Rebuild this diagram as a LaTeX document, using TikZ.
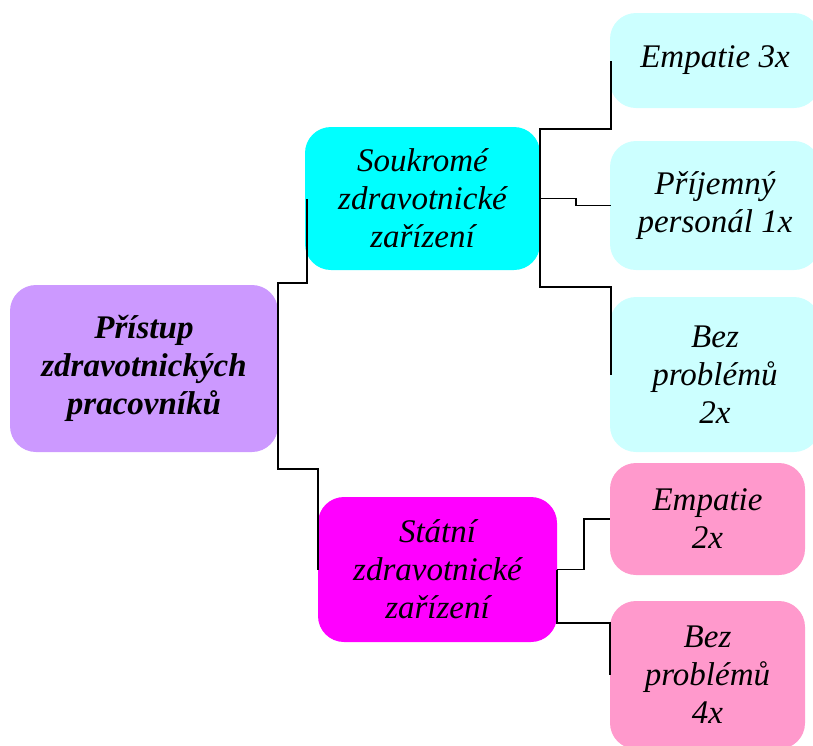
\documentclass[tikz,border=0pt]{standalone}
\usepackage{fontspec}
\setmainfont{Liberation Serif}
\definecolor{fialova}{HTML}{CC99FF}
\definecolor{tyrkys}{HTML}{00FFFF}
\definecolor{svetlytyrkys}{HTML}{CCFFFF}
\definecolor{purpur}{HTML}{FF00FF}
\definecolor{ruzova}{HTML}{FF99CC}
\begin{document}
\begin{tikzpicture}[x=1pt,y=-1pt,
	box/.style={rounded corners=26pt, align=center, inner sep=0pt, font=\fontsize{33}{38}\selectfont\itshape},
	spoj/.style={line width=1.6pt}]
	  \useasboundingbox (0,0) rectangle (813,745);
	  \clip (0,0) rectangle (813,745);
	  % hlavni uzel a dve skupiny zarizeni
	  \node[box, fill=fialova, minimum width=268pt, minimum height=167pt, font=\fontsize{33}{38}\selectfont\bfseries\itshape] (pristup) at (144,368.5) {Přístup\\zdravotnických\\pracovníků};
	  \node[box, fill=tyrkys, minimum width=235pt, minimum height=143pt] (soukrome) at (422.5,198.5) {Soukromé\\zdravotnické\\zařízení};
	  \node[box, fill=purpur, minimum width=239pt, minimum height=145pt] (statni) at (437.5,569.5) {Státní\\zdravotnické\\zařízení};
	  % odpovedi
	  \node[box, fill=svetlytyrkys, minimum width=210pt, minimum height=95pt] (empatie3) at (715,60.5) {Empatie 3x};
	  \node[box, fill=svetlytyrkys, minimum width=210pt, minimum height=129pt] (prijemny) at (715,205.5) {Příjemný\\personál 1x};
	  \node[box, fill=svetlytyrkys, minimum width=210pt, minimum height=155pt] (bez2) at (715,374.5) {Bez\\problémů\\2x};
	  \node[box, fill=ruzova, minimum width=195pt, minimum height=112pt] (empatie2) at (707.5,519) {Empatie\\2x};
	  \node[box, fill=ruzova, minimum width=195pt, minimum height=148pt] (bez4) at (707.5,675) {Bez\\problémů\\4x};
	  % spojnice
	  \draw[spoj] (pristup.east) -- ++(0,-85.5) -| ([xshift=2pt]soukrome.west);
	  \draw[spoj] (pristup.east) -- ++(0,100.5) -| (statni.west);
	  \draw[spoj] (soukrome.east) -- ++(0,-69.5) -| ([xshift=1pt]empatie3.west);
	  \draw[spoj] (soukrome.east) -- ++(36,0) |- ([xshift=1pt]prijemny.west);
	  \draw[spoj] (soukrome.east) -- ++(0,88.5) -| ([xshift=1pt]bez2.west);
	  \draw[spoj] (statni.east) -- ++(27,0) |- (empatie2.west);
	  \draw[spoj] (statni.east) -- ++(0,53.5) -| (bez4.west);
\end{tikzpicture}
\end{document}
